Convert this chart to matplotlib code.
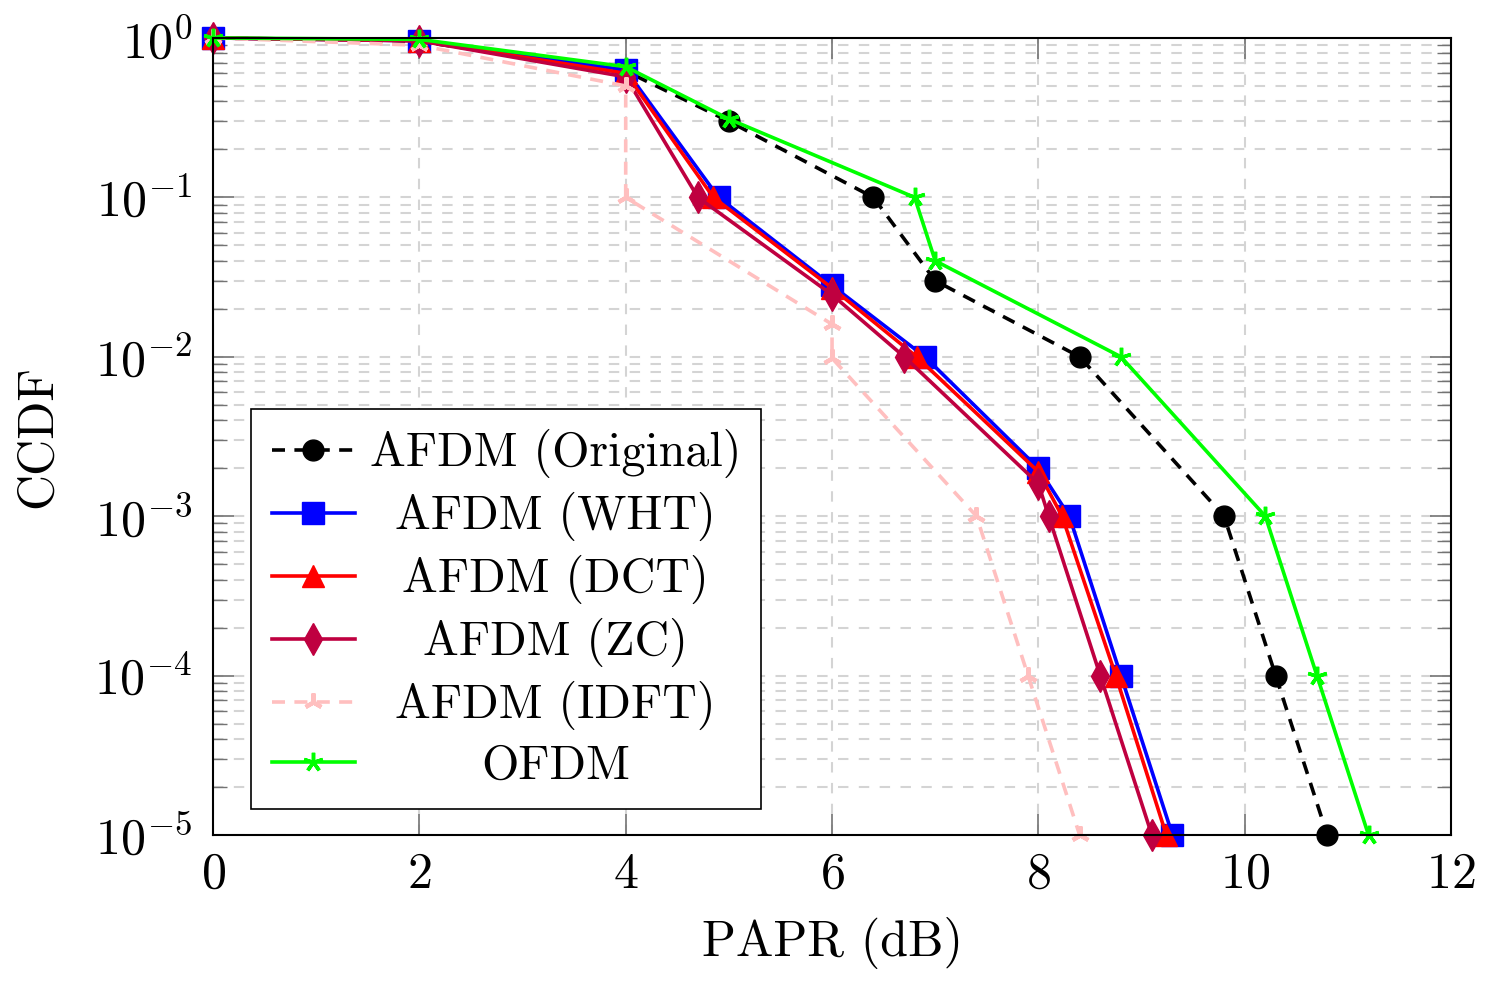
import matplotlib
matplotlib.use("Agg")
import matplotlib.pyplot as plt
from matplotlib.ticker import LogLocator, NullFormatter, MultipleLocator

plt.rcParams["font.family"] = "cmr10"
plt.rcParams["mathtext.fontset"] = "cm"
plt.rcParams["axes.formatter.use_mathtext"] = True
plt.rcParams["axes.unicode_minus"] = False

# CCDF curves (PAPR in dB)
x_orig = [0, 2, 4, 5, 6.4, 7, 8.4, 9.8, 10.3, 10.8]
y_orig = [1, 0.95, 0.62, 0.3, 0.1, 0.03, 0.01, 1e-3, 1e-4, 1e-5]

x_wht = [0, 2, 4, 4.9, 6, 6.9, 8, 8.3, 8.8, 9.3]
y_wht = [1, 0.96, 0.63, 0.1, 0.028, 0.01, 0.002, 1e-3, 1e-4, 1e-5]

x_dct = [0, 2, 4, 4.85, 6, 6.82, 8, 8.23, 8.75, 9.24]
y_dct = [1, 0.96, 0.6, 0.1, 0.027, 0.01, 0.0019, 1e-3, 1e-4, 1e-5]

x_zc = [0, 2, 4, 4.7, 6, 6.7, 8, 8.1, 8.6, 9.1]
y_zc = [1, 0.96, 0.57, 0.1, 0.0245, 0.01, 0.0016, 1e-3, 1e-4, 1e-5]

x_idft = [0, 2, 4, 4, 6, 6, 7.4, 7.9, 8.4]
y_idft = [1, 0.9, 0.5, 0.1, 0.016, 0.0098, 1e-3, 1e-4, 1e-5]

x_ofdm = [0, 2, 4, 5, 6.8, 7, 8.8, 10.2, 10.7, 11.2]
y_ofdm = [1, 0.98, 0.66, 0.31, 0.1, 0.04, 0.01, 1e-3, 1e-4, 1e-5]

FS = 36
LEG_FS = 34.5
LW = 2.6

fig = plt.figure(figsize=(14.95, 9.91), dpi=100)
ax = fig.add_axes([0.1425, 0.1574, 0.9706 - 0.1425, 0.9617 - 0.1574])

ax.plot(x_orig, y_orig, color="black", lw=LW, ls=(0, (3.6, 2.6)), marker="o", ms=15,
        label="AFDM (Original)", clip_on=False)
ax.plot(x_wht, y_wht, color="#0000ff", lw=LW, marker="s", ms=16,
        label="AFDM (WHT)", clip_on=False)
ax.plot(x_dct, y_dct, color="#ff0000", lw=LW, marker="^", ms=16,
        label="AFDM (DCT)", clip_on=False)
ax.plot(x_zc, y_zc, color="#bf0040", lw=LW, marker="d", ms=16,
        label="AFDM (ZC)", clip_on=False)
ax.plot(x_idft, y_idft, color="#ffbfbf", lw=LW, ls=(0, (3.6, 2.6)), marker=(3, 2, 0), ms=13,
        mew=3, label="AFDM (IDFT)", clip_on=False)
ax.plot(x_ofdm, y_ofdm, color="#00ff00", lw=LW, marker=(5, 2, 0), ms=14, mew=2.5,
        label="OFDM", clip_on=False)

ax.set_yscale("log")
ax.set_xlim(0, 12)
ax.set_ylim(1e-5, 1)
ax.xaxis.set_major_locator(MultipleLocator(2))
ax.yaxis.set_major_locator(LogLocator(base=10, numticks=10))
ax.yaxis.set_minor_locator(LogLocator(base=10, subs=range(2, 10), numticks=20))
ax.yaxis.set_minor_formatter(NullFormatter())

ax.grid(True, which="major", axis="both", color="#d4d4d4", ls=(0, (5, 5)), lw=1.5)
ax.grid(True, which="minor", axis="y", color="#d4d4d4", ls=(0, (5, 5)), lw=1.5)
ax.set_axisbelow(True)

ax.tick_params(which="both", direction="in", top=True, right=True, colors="0.45",
               labelcolor="black", labelsize=FS)
ax.tick_params(which="major", length=15, width=1.2, pad=12)
ax.tick_params(axis="y", which="major", pad=15)
ax.tick_params(which="minor", length=10, width=1.0)
for sp in ax.spines.values():
    sp.set_linewidth(1.5)
    sp.set_color("black")

ax.set_xlabel("PAPR (dB)", fontsize=FS, labelpad=14)
ax.set_ylabel("CCDF", fontsize=FS, labelpad=24)

leg = ax.legend(loc="lower left", bbox_to_anchor=(0.031, 0.033), borderaxespad=0,
                fontsize=LEG_FS, fancybox=False, edgecolor="black", framealpha=1,
                handlelength=1.75, handletextpad=0.3, labelspacing=0.29,
                borderpad=0.42)
leg.get_frame().set_linewidth(1.2)

# centre the legend labels in their column, as in the original
fig.canvas.draw()
texts = leg.get_texts()
widths = [t.get_window_extent().width for t in texts]
wmax = max(widths)
for t, w in zip(texts, widths):
    t.set_position(((wmax - w) / 2, 0))

fig.savefig("out.png", dpi=100)
